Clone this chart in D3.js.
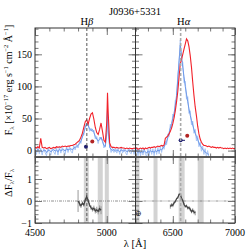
<!DOCTYPE html>
<html>
<head>
<meta charset="utf-8">
<script src="https://cdn.jsdelivr.net/npm/d3@7"></script>
<style>
body { margin: 0; background: #fff; }
svg { display: block; font-family: "Liberation Serif", "DejaVu Serif", serif; }
</style>
</head>
<body>
<svg id="chart" width="249" height="249"></svg>
<script>
// ---- data ----
// H-beta window
var waveB = [4500,4510,4520,4530,4540,4550,4560,4570,4580,4590,4600,4610,4620,4630,4640,4650,4660,4670,4680,4690,
  4700,4710,4720,4730,4740,4750,4760,4770,4780,4790,4800,4810,4820,4830,4840,4850,4860,4870,4880,4890,
  4900,4910,4920,4930,4940,4950,4960,4970,4980,4990,5000,5005,5010,5020,5030,5040,5050,5060,5070,5080,
  5090,5100,5110,5120,5130,5140,5150,5160,5170,5180,5190,5200];
var redB = [5,4,6,4,19,5,4,5,3,4,5,3,4,5,4,6,5,6,5,7,
  6,7,6,7,7,8,8,9,10,12,14,16,21,27,36,45,48,41,50,57,
  59,49,36,28,25,33,43,30,16,13,45,90,58,12,6,5,5,4,5,4,
  4,5,4,4,3,4,3,4,3,3,4,3];
var blueB = [1,-2,2,-1,1,-2,0,1,-3,0,1,-2,0,2,-1,1,-2,2,0,1,
  2,-1,3,1,2,3,1,4,5,6,8,11,15,21,28,36,42,39,34,31,
  33,28,22,18,15,17,21,14,8,6,28,62,33,5,2,0,2,-1,1,0,
  -2,1,0,-1,1,-2,0,1,-1,0,-2,0];
var blueRawB = [5,-6,6,-5,4,-7,3,-3,-8,4,-3,-7,4,-2,-6,5,-7,6,-4,5,
  -2,-6,7,-3,6,-1,-4,8,1,10,4,15,11,25,24,40,38,44,30,35,
  29,32,18,22,11,21,17,18,4,10,24,66,29,9,-3,4,-3,3,-4,4,
  -6,5,-4,3,-3,-7,4,-3,-5,4,-6,3];

// H-alpha window
var waveA = [6200,6210,6220,6230,6240,6250,6260,6270,6280,6290,6300,6310,6320,6330,6340,6350,6360,6370,6380,6390,
  6400,6410,6420,6430,6440,6450,6460,6470,6480,6490,6500,6510,6520,6530,6540,6550,6560,6570,6580,6590,
  6600,6610,6620,6630,6640,6650,6660,6670,6680,6690,6700,6710,6720,6730,6740,6750,6760,6770,6780,6790,
  6800,6810,6820,6830,6840,6850,6860,6870,6880,6890,6900,6910,6920,6930,6940,6950,6960,6970,6980,6990,7000];
var redA = [3,4,2,3,4,3,4,2,4,3,4,5,4,5,5,6,5,6,7,6,
  7,8,7,9,19,21,23,26,30,35,42,51,62,76,92,114,135,142,150,158,
  166,174,171,162,148,130,107,86,68,54,38,26,18,13,10,8,8,7,6,7,
  6,5,6,5,5,4,5,4,5,4,4,3,4,3,4,3,4,3,4,3,3];
// blue spectrum only covers 6200-6790
var blueA = [-2,1,-3,0,-4,-1,-3,0,-2,-4,-1,-3,0,-2,-1,-3,0,-2,1,-1,
  2,1,4,6,10,14,20,28,35,42,50,58,70,86,110,140,164,148,130,115,
  100,88,76,65,55,47,40,33,27,22,17,12,8,5,2,0,-2,-4,-5,-6];
var blueRawA = [-7,5,-8,4,-9,3,-7,4,-6,-9,3,-8,4,-6,3,-8,4,-6,5,-5,
  6,-3,8,2,15,9,26,22,41,36,57,52,78,80,118,132,172,140,138,106,
  108,80,84,58,62,40,46,27,33,15,23,6,13,-1,7,-6,3,-10,0,-11];

// residuals dF/F
var residWaveB = [4800,4810,4820,4830,4840,4850,4860,4870,4880,4890,4900,4910,4920,4930,4940,4950,4960];
var residB = [0.0,-0.12,-0.22,-0.1,-0.18,0.05,0.2,0.02,-0.18,-0.3,-0.38,-0.33,-0.45,-0.4,-0.47,-0.35,-0.42];
var errB = [0.5,0.12,0.1,0.08,0.08,0.07,0.07,0.07,0.08,0.1,0.1,0.12,0.12,0.14,0.14,0.15,0.18];
var residWaveA = [6480,6490,6500,6510,6520,6530,6540,6550,6560,6570,6580,6590,6600,6610,6620,6630,6640,6650,6660,6670,6680];
var residA = [-0.25,-0.18,-0.2,-0.08,-0.02,0.1,0.15,0.3,0.32,0.12,0.02,-0.15,-0.25,-0.22,-0.32,-0.3,-0.38,-0.48,-0.42,-0.5,-0.55];
var errA = [0.1,0.08,0.08,0.07,0.06,0.05,0.05,0.04,0.04,0.04,0.05,0.05,0.06,0.06,0.07,0.07,0.08,0.08,0.09,0.1,0.1];

// masked regions in the residual panel
var bandsB = [[4840, 4875], [4937, 4972], [4986, 5014]];
var bandsA = [[6200, 6232], [6345, 6377], [6547, 6595], [6700, 6748]];

// line-centre markers: [wave, flux]
var blueDotB = [4855, 6], redDotB = [4899, 14];
var blueDotA = [6563, 16], redDotA = [6616, 23];
var blueDotLineA = [6563, 6598];

var xTickLabelsB = [4500, 5000], xTickLabelsA = [6500, 7000];
var fluxTickLabels = [0, 50, 100, 150];
var residTickLabels = [-1, 0, 1];

// ---- layout ----
var svg = d3.select("#chart");

var xB = d3.scaleLinear().domain([4500, 5200]).range([35, 135.5]);
var xA = d3.scaleLinear().domain([6200, 7000]).range([135.5, 235]);
var yF = d3.scaleLinear().domain([-10, 191]).range([157, 28]);
var yR = d3.scaleLinear().domain([-1, 2]).range([223, 157]);

var panels = [
  {id: "b", x: xB, wave: waveB, red: redB, blue: blueB, raw: blueRawB,
   rw: residWaveB, rv: residB, re: errB, bands: bandsB, center: 4861,
   dash: "#555", dashW: 1, bdot: blueDotB, rdot: redDotB, ticks: xTickLabelsB},
  {id: "a", x: xA, wave: waveA, red: redA, blue: blueA, raw: blueRawA,
   rw: residWaveA, rv: residA, re: errA, bands: bandsA, center: 6563,
   dash: "#aaa", dashW: 1.6, bdot: blueDotA, rdot: redDotA, ticks: xTickLabelsA}
];

var defs = svg.append("defs");

panels.forEach(function(p) {
  var x0 = p.x.range()[0], x1 = p.x.range()[1];
  defs.append("clipPath").attr("id", "clipF" + p.id)
    .append("rect").attr("x", x0).attr("y", 28).attr("width", x1 - x0).attr("height", 129);
  defs.append("clipPath").attr("id", "clipR" + p.id)
    .append("rect").attr("x", x0).attr("y", 157).attr("width", x1 - x0).attr("height", 66);

  var gF = svg.append("g").attr("clip-path", "url(#clipF" + p.id + ")");
  var gR = svg.append("g").attr("clip-path", "url(#clipR" + p.id + ")");

  // spectra
  var lineOf = function(vals) {
    return d3.line()
      .x(function(d, i) { return p.x(p.wave[i]); })
      .y(function(d) { return yF(d); })(vals);
  };
  gF.append("path").attr("d", lineOf(p.raw))
    .attr("fill", "none").attr("stroke", "#a9c6f5").attr("stroke-width", 1);
  gF.append("path").attr("d", lineOf(p.blue))
    .attr("fill", "none").attr("stroke", "#6d98e8").attr("stroke-width", 1);
  gF.append("path").attr("d", lineOf(p.red))
    .attr("fill", "none").attr("stroke", "#f2222a").attr("stroke-width", 1.1);

  if (p.id === "a") {
    gF.append("line")
      .attr("x1", xA(blueDotLineA[0])).attr("x2", xA(blueDotLineA[1]))
      .attr("y1", yF(p.bdot[1])).attr("y2", yF(p.bdot[1]))
      .attr("stroke", "#1c1c6e").attr("stroke-width", 1);
  }
  gF.append("circle").attr("cx", p.x(p.bdot[0])).attr("cy", yF(p.bdot[1]))
    .attr("r", 2).attr("fill", "#1c1c6e");
  gF.append("circle").attr("cx", p.x(p.rdot[0])).attr("cy", yF(p.rdot[1]))
    .attr("r", 2).attr("fill", "#b22424");

  // residual panel
  gR.selectAll(".band")
    .data(p.bands)
    .enter().append("rect")
      .attr("class", "band")
      .attr("x", function(d) { return p.x(d[0]); })
      .attr("width", function(d) { return p.x(d[1]) - p.x(d[0]); })
      .attr("y", 157).attr("height", 66)
      .attr("fill", "#d3d3d3");

  gR.append("line")
    .attr("x1", x0).attr("x2", x1).attr("y1", yR(0)).attr("y2", yR(0))
    .attr("stroke", "#777").attr("stroke-width", 0.8)
    .attr("stroke-dasharray", "3,1,1,1,1,1");

  gR.selectAll(".err")
    .data(p.rv)
    .enter().append("line")
      .attr("class", "err")
      .attr("x1", function(d, i) { return p.x(p.rw[i]); })
      .attr("x2", function(d, i) { return p.x(p.rw[i]); })
      .attr("y1", function(d, i) { return yR(d - p.re[i]); })
      .attr("y2", function(d, i) { return yR(d + p.re[i]); })
      .attr("stroke", "#999").attr("stroke-width", 1);

  gR.append("path")
    .attr("d", d3.line()
      .x(function(d, i) { return p.x(p.rw[i]); })
      .y(function(d) { return yR(d); })(p.rv))
    .attr("fill", "none").attr("stroke", "#444").attr("stroke-width", 1.3);

  // line centre
  svg.append("line")
    .attr("x1", p.x(p.center)).attr("x2", p.x(p.center))
    .attr("y1", 28).attr("y2", 223)
    .attr("stroke", p.dash).attr("stroke-width", p.dashW)
    .attr("stroke-dasharray", "3,2");

  // ticks, all inward
  var xMinor = d3.range(p.x.domain()[0], p.x.domain()[1] + 1, 100);
  var xMajor = xMinor.filter(function(v) { return v % 500 === 0; });
  [[yF, -10, 191, 10, 50], [yR, -1, 2, 0.2, 1]].forEach(function(s) {
    var y = s[0];
    var yMinor = d3.range(s[1], s[2] + 0.001, s[3]);
    var yMajor = d3.range(Math.ceil(s[1] / s[4]) * s[4], s[2] + 0.001, s[4]);
    var top = y.range()[1], bot = y.range()[0];
    [[xMinor, 3.5], [xMajor, 7]].forEach(function(t) {
      svg.append("g").attr("transform", "translate(0," + bot + ")")
        .call(d3.axisBottom(p.x).tickValues(t[0]).tickSize(-t[1]).tickFormat(""));
      svg.append("g").attr("transform", "translate(0," + top + ")")
        .call(d3.axisTop(p.x).tickValues(t[0]).tickSize(-t[1]).tickFormat(""));
    });
    [[yMinor, 3.5], [yMajor, 7]].forEach(function(t) {
      svg.append("g").attr("transform", "translate(" + x0 + ",0)")
        .call(d3.axisLeft(y).tickValues(t[0]).tickSize(-t[1]).tickFormat(""));
      svg.append("g").attr("transform", "translate(" + x1 + ",0)")
        .call(d3.axisRight(y).tickValues(t[0]).tickSize(-t[1]).tickFormat(""));
    });
  });

  svg.selectAll(".tick line").attr("stroke", "#777");
  svg.selectAll(".domain").remove();

  // x tick labels
  svg.selectAll(".xl" + p.id)
    .data(p.ticks)
    .enter().append("text")
      .attr("x", function(d) { return p.x(d); })
      .attr("y", 236)
      .attr("text-anchor", "middle")
      .attr("font-size", 10)
      .text(function(d) { return d; });

  // frames
  svg.append("rect").attr("x", x0).attr("y", 28).attr("width", x1 - x0).attr("height", 129)
    .attr("fill", "none").attr("stroke", "#333").attr("stroke-width", 1);
  svg.append("rect").attr("x", x0).attr("y", 157).attr("width", x1 - x0).attr("height", 66)
    .attr("fill", "none").attr("stroke", "#333").attr("stroke-width", 1);
});

svg.append("line").attr("x1", 35).attr("x2", 235).attr("y1", 157).attr("y2", 157)
  .attr("stroke", "#555").attr("stroke-width", 1.6);

// telluric symbol
svg.append("text").attr("x", xA(6222)).attr("y", 216)
  .attr("text-anchor", "middle").attr("font-size", 8).attr("fill", "#333")
  .text("\u2295");

// y tick labels
svg.selectAll(".yl")
  .data(fluxTickLabels)
  .enter().append("text")
    .attr("x", 32).attr("y", function(d) { return yF(d) + 3.5; })
    .attr("text-anchor", "end").attr("font-size", 10)
    .text(function(d) { return d; });
svg.selectAll(".yr")
  .data(residTickLabels)
  .enter().append("text")
    .attr("x", 32).attr("y", function(d) { return yR(d) + 3.5; })
    .attr("text-anchor", "end").attr("font-size", 10)
    .text(function(d) { return d < 0 ? "\u2212" + (-d) : d; });

// titles and line names
svg.append("text").attr("x", 135).attr("y", 15).attr("text-anchor", "middle")
  .attr("font-size", 10.5).text("J0936+5331");
var hb = svg.append("text").attr("x", xB(4861)).attr("y", 25).attr("text-anchor", "middle").attr("font-size", 10.5);
hb.append("tspan").text("H");
hb.append("tspan").attr("font-style", "italic").text("\u03b2");
var ha = svg.append("text").attr("x", xA(6563) + 3).attr("y", 25).attr("text-anchor", "middle").attr("font-size", 10.5);
ha.append("tspan").text("H");
ha.append("tspan").attr("font-style", "italic").text("\u03b1");

// axis labels
var xl = svg.append("text").attr("x", 135).attr("y", 247).attr("text-anchor", "middle").attr("font-size", 10.5);
xl.text("\u03bb [\u00c5]");

var yl = svg.append("text")
  .attr("transform", "translate(12,80) rotate(-90)")
  .attr("text-anchor", "middle").attr("font-size", 10);
yl.append("tspan").text("F");
yl.append("tspan").attr("font-size", 7).attr("dy", 2).text("\u03bb");
yl.append("tspan").attr("dy", -2).text(" [\u00d710");
yl.append("tspan").attr("font-size", 6.5).attr("dy", -4).text("\u221217");
yl.append("tspan").attr("dy", 4).text(" erg s");
yl.append("tspan").attr("font-size", 6.5).attr("dy", -4).text("\u22121");
yl.append("tspan").attr("dy", 4).text(" cm");
yl.append("tspan").attr("font-size", 6.5).attr("dy", -4).text("\u22122");
yl.append("tspan").attr("dy", 4).text(" \u00c5");
yl.append("tspan").attr("font-size", 6.5).attr("dy", -4).text("\u22121");
yl.append("tspan").attr("dy", 4).text("]");

var rl = svg.append("text")
  .attr("transform", "translate(12,183) rotate(-90)")
  .attr("text-anchor", "middle").attr("font-size", 10.5);
rl.append("tspan").text("\u0394F");
rl.append("tspan").attr("font-size", 7).attr("dy", 2).text("\u03bb");
rl.append("tspan").attr("dy", -2).text("/F");
rl.append("tspan").attr("font-size", 7).attr("dy", 2).text("\u03bb");
</script>
</body>
</html>
